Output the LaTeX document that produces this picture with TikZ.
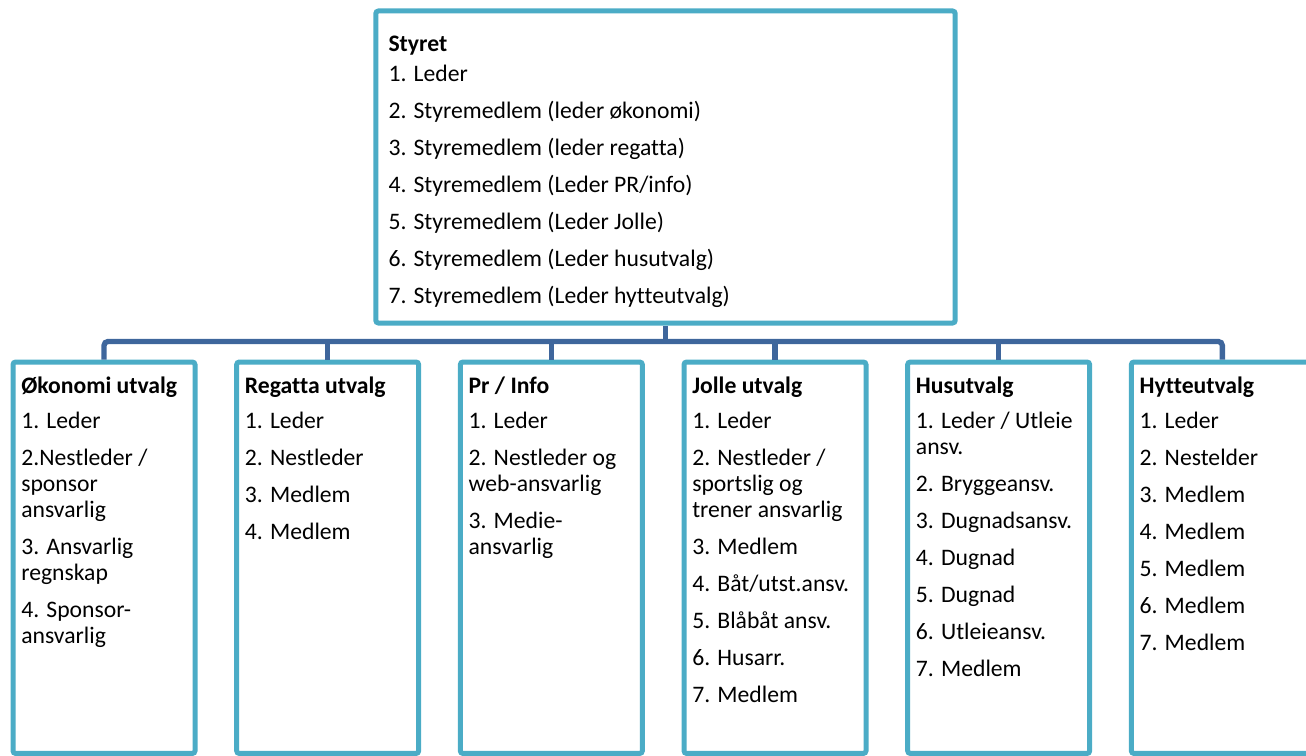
\documentclass[tikz,border=0pt]{standalone}
\usepackage{fontspec}
\setmainfont{Carlito}[Ligatures=CommonOff]
\usetikzlibrary{positioning}
\definecolor{boxblue}{RGB}{75,172,198}
\definecolor{linkblue}{RGB}{62,102,156}
\newcommand{\itemgap}{\\[8.25pt]}
\begin{document}
\begin{tikzpicture}[x=0.75pt, y=-0.75pt,
  unit/.style={draw=boxblue, line width=3.75pt, rounded corners=2pt, fill=white,
    minimum width=136.5pt, minimum height=293.6pt, inner sep=0pt},
  listtext/.style={anchor=north west, align=left, inner sep=0pt,
    font=\fontsize{17.75pt}{19.5pt}\selectfont},
  link/.style={draw=linkblue, line width=4pt}]
\clip (0,0) rectangle (1306,756);
\node[unit, minimum width=434.6pt, minimum height=234pt, anchor=north] (styret) at (665.5,8.5) {};
\node[unit, anchor=north] (oko) at (104,359.5) {};
\node[unit, right=27.5pt of oko] (regatta) {};
\node[unit, right=27.5pt of regatta] (prinfo) {};
\node[unit, right=27.5pt of prinfo] (jolle) {};
\node[unit, right=27.5pt of jolle] (hus) {};
\node[unit, right=27.5pt of hus] (hytte) {};
\path (styret.south) ++(0,16) coordinate (bus);
\draw[link] (styret.south) -- (bus);
\draw[link, rounded corners=3pt] (oko.north) |- (bus) -| (hytte.north);
\foreach \b in {regatta,prinfo,jolle,hus} \draw[link] (bus -| \b.north) -- (\b.north);
\node[listtext] (styrettext) at ([xshift=11.25pt, yshift=-20.6pt]styret.north west)
  {\textbf{Styret}\\[3pt] 1. Leder\itemgap 2. Styremedlem (leder økonomi)\itemgap
   3. Styremedlem (leder regatta)\itemgap 4. Styremedlem (Leder PR/info)\itemgap
   5. Styremedlem (Leder Jolle)\itemgap 6. Styremedlem (Leder husutvalg)\itemgap
   7. Styremedlem (Leder hytteutvalg)};
\node[listtext] (okotext) at ([xshift=7.9pt, yshift=-12.75pt]oko.north west)
  {\textbf{Økonomi utvalg}\\[6.75pt] 1. Leder\itemgap 2.Nestleder /\\sponsor\\ansvarlig\itemgap
   3. Ansvarlig\\regnskap\itemgap 4. Sponsor-\\ansvarlig};
\node[listtext] (regattatext) at ([xshift=7.9pt, yshift=-12.75pt]regatta.north west)
  {\textbf{Regatta utvalg}\\[6.75pt] 1. Leder\itemgap 2. Nestleder\itemgap 3. Medlem\itemgap 4. Medlem};
\node[listtext] (prinfotext) at ([xshift=7.9pt, yshift=-12.75pt]prinfo.north west)
  {\textbf{Pr / Info}\\[6.75pt] 1. Leder\itemgap 2. Nestleder og\\web-ansvarlig\itemgap 3. Medie-\\ansvarlig};
\node[listtext] (jolletext) at ([xshift=7.9pt, yshift=-12.75pt]jolle.north west)
  {\textbf{Jolle utvalg}\\[6.75pt] 1. Leder\itemgap 2. Nestleder /\\sportslig og\\trener ansvarlig\itemgap
   3. Medlem\itemgap 4. Båt/utst.ansv.\itemgap 5. Blåbåt ansv.\itemgap 6. Husarr.\itemgap 7. Medlem};
\node[listtext] (hustext) at ([xshift=7.9pt, yshift=-12.75pt]hus.north west)
  {\textbf{Husutvalg}\\[6.75pt] 1. Leder / Utleie\\ansv.\itemgap 2. Bryggeansv.\itemgap 3. Dugnadsansv.\itemgap
   4. Dugnad\itemgap 5. Dugnad\itemgap 6. Utleieansv.\itemgap 7. Medlem};
\node[listtext] (hyttetext) at ([xshift=7.9pt, yshift=-12.75pt]hytte.north west)
  {\textbf{Hytteutvalg}\\[6.75pt] 1. Leder\itemgap 2. Nestelder\itemgap 3. Medlem\itemgap 4. Medlem\itemgap
   5. Medlem\itemgap 6. Medlem\itemgap 7. Medlem};
\end{tikzpicture}
\end{document}
